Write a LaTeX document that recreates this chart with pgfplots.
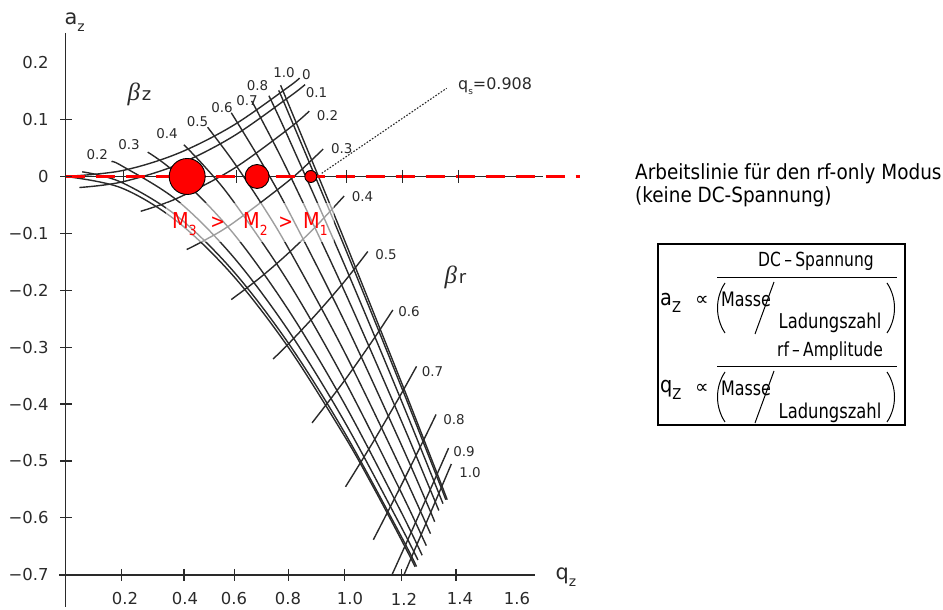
\documentclass[border=0pt]{standalone}
\usepackage{fontspec}
\setmainfont{DejaVu Sans}
\newfontfamily\narrow{DejaVu Sans}[FakeStretch=0.88]
\newfontfamily\tightfont{DejaVu Sans}[FakeStretch=0.8]
\newfontfamily\greekfont{Liberation Serif}
\usepackage{pgfplots}
\pgfplotsset{compat=1.18}

\definecolor{scan}{HTML}{2A2A2A}
\newcommand\fs[1]{\fontsize{#1}{#1}\selectfont}
\newcommand\lowered[2]{\raisebox{-0.3em}{\fs{#1}#2}}

\pgfplotsset{iso/.style={scan, line width=1.4bp, smooth, tension=0.55}}

\begin{document}
\begin{tikzpicture}[x=1bp,y=1bp]
\useasboundingbox (0,0) rectangle (943,610);
\begin{axis}[
  at={(0,0)}, anchor=south west,
  scale only axis, width=943bp, height=610bp,
  xmin=-0.23510, xmax=3.14968, ymin=-0.76186, ymax=0.31019,
  hide axis, clip=false,
]
% ---- iso-beta_z lines ----
\addplot[iso] coordinates {(0,0) (0.2,-0.01995) (0.4,-0.07864) (0.6,-0.17342) (0.8,-0.30042) (1.0,-0.45515) (1.1,-0.5416) (1.2,-0.6334) (1.255,-0.6859)};
\addplot[iso] coordinates {(0.06,0.0082) (0.2,-0.0101) (0.4,-0.0694) (0.6,-0.1651) (0.8,-0.2929) (1.0,-0.4486) (1.2,-0.6279) (1.26,-0.6855)};
\addplot[iso] coordinates {(0.165,0.0259) (0.2,0.01927) (0.4,-0.04176) (0.6,-0.13997) (0.8,-0.2707) (1.0,-0.4296) (1.2,-0.6114) (1.265,-0.674)};
\addplot[iso] coordinates {(0.295,0.0428) (0.4,0.0040) (0.6,-0.0985) (0.8,-0.2345) (1.0,-0.3983) (1.2,-0.5851) (1.28,-0.6656)};
\addplot[iso] coordinates {(0.425,0.0557) (0.5,0.0172) (0.6,-0.0420) (0.8,-0.1856) (1.0,-0.3568) (1.2,-0.5503) (1.295,-0.6488)};
\addplot[iso] coordinates {(0.51,0.0866) (0.6,0.0278) (0.7,-0.0454) (0.8,-0.1262) (1.0,-0.3073) (1.2,-0.5094) (1.31,-0.6277)};
\addplot[iso] coordinates {(0.595,0.112) (0.7,0.0277) (0.8,-0.0600) (1.0,-0.2533) (1.2,-0.4656) (1.3,-0.5775) (1.325,-0.6068)};
\addplot[iso] coordinates {(0.668,0.1328) (0.7,0.1036) (0.8,0.0076) (1.0,-0.2001) (1.2,-0.4233) (1.3,-0.5397) (1.34,-0.587)};
\addplot[iso] coordinates {(0.73,0.1419) (0.8,0.0683) (1.0,-0.1536) (1.2,-0.3874) (1.3,-0.508) (1.355,-0.575)};
\addplot[iso] coordinates {(0.765,0.1514) (0.8,0.1118) (1.0,-0.1216) (1.2,-0.3631) (1.3,-0.4866) (1.35,-0.5489) (1.365,-0.568)};
\addplot[iso] coordinates {(0.772,0.1604) (0.8,0.1276) (0.9,0.0095) (1.0,-0.1102) (1.2,-0.3548) (1.3,-0.4795) (1.35,-0.5424) (1.37,-0.568)};
% ---- iso-beta_r lines ----
\addplot[iso] coordinates {(0,0) (0.2,0.00999) (0.4,0.03983) (0.6,0.08913) (0.8,0.1573) (0.84,0.1731)};
\addplot[iso] coordinates {(0.05,-0.0194) (0.2,-0.0099) (0.4,0.0202) (0.6,0.0700) (0.8,0.1388) (0.86,0.1615)};
\addplot[iso] coordinates {(0.27,-0.0611) (0.4,-0.0385) (0.6,0.0127) (0.8,0.0835) (0.875,0.1149)};
\addplot[iso] coordinates {(0.435,-0.1284) (0.5,-0.1119) (0.6,-0.0823) (0.8,-0.0080) (0.9,0.0365) (0.925,0.0483)};
\addplot[iso] coordinates {(0.595,-0.2163) (0.7,-0.1772) (0.8,-0.1347) (0.9,-0.0870) (1.0,-0.0344)};
\addplot[iso] coordinates {(0.745,-0.3208) (0.8,-0.2943) (0.9,-0.2419) (1.0,-0.1853) (1.085,-0.1318)};
\addplot[iso] coordinates {(0.885,-0.433) (1.0,-0.3596) (1.1,-0.2900) (1.175,-0.2346)};
\addplot[iso] coordinates {(1.005,-0.5454) (1.1,-0.4700) (1.2,-0.3862) (1.26,-0.3336)};
\addplot[iso] coordinates {(1.105,-0.6384) (1.2,-0.5476) (1.3,-0.4487) (1.33,-0.4182)};
\addplot[iso] coordinates {(1.17,-0.7018) (1.2,-0.6696) (1.3,-0.5604) (1.375,-0.4773)};
\addplot[iso] coordinates {(1.215,-0.700) (1.25,-0.6597) (1.3,-0.6027) (1.35,-0.5454) (1.385,-0.5052)};
% q_s marker line
\addplot[scan, line width=1.1bp, dash pattern=on 1.6bp off 1.6bp] coordinates {(0.9196,0.0056) (1.368,0.155)};
% a_z = 0 line
\addplot[scan, line width=1.4bp] coordinates {(0,0) (1.714,0)};
% rf-only working line
\addplot[red, line width=3bp, dash pattern=on 19bp off 11bp] coordinates {(0,0) (1.847,0)};
% three ion masses on the working line
\addplot[only marks, mark=*, mark size=18bp, mark options={fill=red, draw=black, line width=0.9bp}] coordinates {(0.4368,0)};
\addplot[only marks, mark=*, mark size=12bp, mark options={fill=red, draw=black, line width=0.9bp}] coordinates {(0.6877,0)};
\addplot[only marks, mark=*, mark size=6bp, mark options={fill=red, draw=black, line width=0.9bp}] coordinates {(0.8805,0)};
\end{axis}

\begin{scope}[shift={(0,610)}, yscale=-1]
  % axes of the diagram
  \draw[scan, line width=1.4] (65.5,33) -- (65.5,607);
  \draw[scan, line width=1.4] (59,575) -- (535,575);
  \foreach \x in {121.7,184,234.3,288.3,344.5,401.7,456}
    \draw[scan, line width=1.2] (\x,569) -- (\x,581);
  \foreach \x/\l in {125/0.2,185/0.4,234/0.6,288/0.8,350/1.0,404/1.2,460/1.4,517/1.6}
    \node[scan, font=\fs{16.5}] at (\x,599) {\l};
  \foreach \a/\l in {0.1/0.1,0/0,-0.1/−0.1,-0.2/−0.2,-0.3/−0.3,-0.4/−0.4,-0.5/−0.5,-0.6/−0.6,-0.7/−0.7}{
    \pgfmathsetmacro\py{176.5-569*\a}
    \draw[scan, line width=1.2] (60,\py) -- (72,\py);
    \node[scan, font=\fs{16.5}, anchor=east] at (52,\py) {\l};
  }
  \node[scan, font=\fs{16.5}, anchor=east] at (52,62.7) {0.2};
  % ticks on the a_z = 0 line
  \foreach \x in {123.3,236.7,346.7,402.7,458.3}
    \draw[scan, line width=1.2] (\x,170) -- (\x,183);
  % axis names
  \node[scan, anchor=base west, font=\fs{21}] at (61,25) {a\lowered{14}{z}};
  \node[scan, anchor=base west, font=\fs{21}] at (552,580) {q\lowered{14}{z}};
  \node[scan, anchor=base west, font=\fs{25}] at (124,101) {{\greekfont\itshape β}\hspace{2bp}{\fs{18}z}};
  \node[scan, anchor=base west, font=\fs{25}] at (441,284) {{\greekfont\itshape β}\hspace{2bp}{\fs{18}r}};
  % beta_z labels
  \foreach \x/\y/\l in {97.3/155/0.2,129/145/0.3,167/134/0.4,197.5/122/0.5,222/107.5/0.6,247/101/0.7,257.5/86/0.8,284/72.5/1.0}
    \node[scan, font=\fs{13.5}] at (\x,\y) {\l};
  % beta_r labels
  \foreach \x/\y/\l in {306.5/75/0,316.5/92.5/0.1,327.5/116/0.2,341.7/149/0.3,362.5/196.7/0.4,386/255/0.5,409/312/0.6,432.5/372/0.7,454/420/0.8,464/452/0.9,470/473/1.0}
    \node[scan, font=\fs{13.5}] at (\x,\y) {\l};
  \node[scan, font=\fs{16}, anchor=west, inner sep=0] at (458,86) {q\lowered{9}{s}=0.908};
  % mass ordering
  \fill[white, opacity=0.55] (166,203) rectangle (334,242);
  \node[red, anchor=base west, font=\narrow\fs{22}, inner sep=0] at (172,229) {M\lowered{14}{3}};
  \node[red, font=\narrow\fs{20}] at (217.7,222.5) {>};
  \node[red, anchor=base west, font=\narrow\fs{22}, inner sep=0] at (243,229) {M\lowered{14}{2}};
  \node[red, font=\narrow\fs{20}] at (285.7,222.5) {>};
  \node[red, anchor=base west, font=\narrow\fs{22}, inner sep=0] at (303,229) {M\lowered{14}{1}};
  % working line caption
  \node[anchor=base west, font=\narrow\fs{21}, inner sep=0] at (635,180) {Arbeitslinie für den rf-only Modus};
  \node[anchor=base west, font=\narrow\fs{21}, inner sep=0] at (635,203) {(keine DC-Spannung)};
  % scaling relations
  \draw[line width=1.8] (658,244) rectangle (905,425);
  % first relation
  \node[anchor=base west, font=\narrow\fs{22}, inner sep=0] at (660,306) {a\lowered{15}{Z}};
  \node[font=\fs{19}] at (702,301) {∝};
  \node[font=\tightfont\fs{19.5}] at (816,261) {DC\,–\,Spannung};
  \draw[line width=1] (717,278) -- (897,278);
  \draw[line width=1] (725,283) .. controls (715,298) and (715,318) .. (725,333);
  \draw[line width=1] (887,283) .. controls (897,298) and (897,318) .. (887,333);
  \node[font=\tightfont\fs{20}] at (746,299) {Masse};
  \draw[line width=1] (755,334) -- (774,282);
  \node[font=\tightfont\fs{20.5}] at (830,323) {Ladungszahl};
  % second relation
  \node[anchor=base west, font=\narrow\fs{22}, inner sep=0] at (660,393) {q\lowered{15}{Z}};
  \node[font=\fs{19}] at (702,389) {∝};
  \node[font=\tightfont\fs{19.5}] at (830,351) {rf\,–\,Amplitude};
  \draw[line width=1] (717,367) -- (897,367);
  \draw[line width=1] (725,372) .. controls (715,387) and (715,407) .. (725,422);
  \draw[line width=1] (887,372) .. controls (897,387) and (897,407) .. (887,422);
  \node[font=\tightfont\fs{20}] at (746,388) {Masse};
  \draw[line width=1] (755,423) -- (774,371);
  \node[font=\tightfont\fs{20.5}] at (830,413) {Ladungszahl};
\end{scope}
\end{tikzpicture}
\end{document}
